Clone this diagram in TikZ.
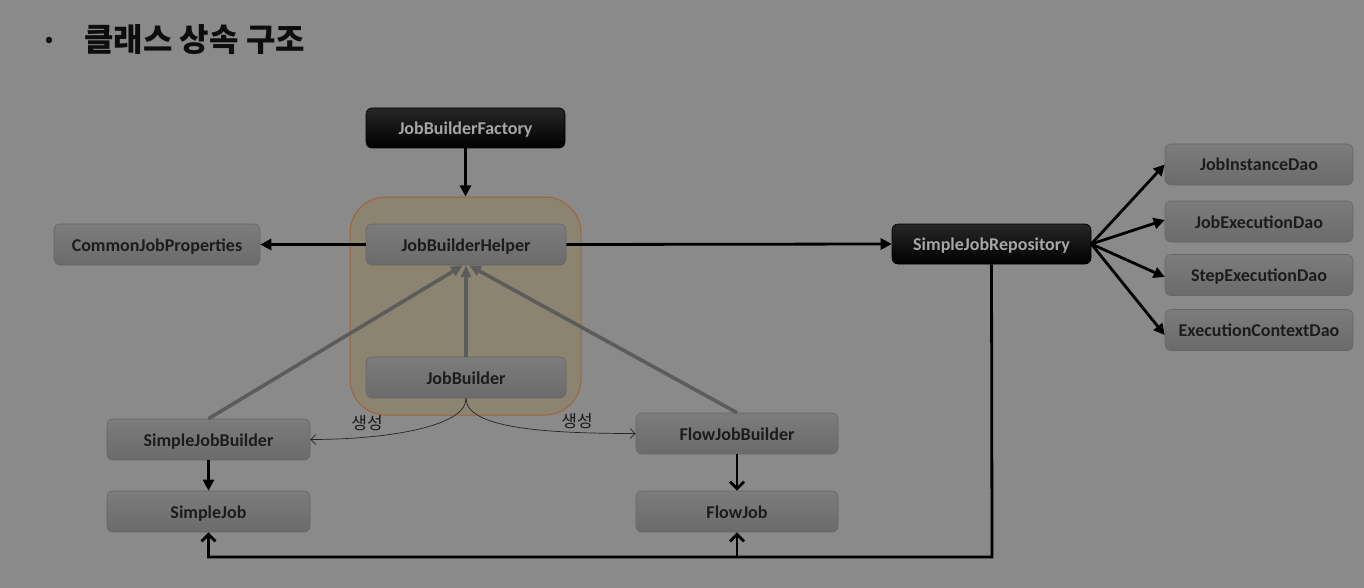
\documentclass[tikz,border=0pt]{standalone}
\usepackage{fontspec}
\setmainfont{Carlito}
\newfontfamily\kr{Noto Sans CJK KR}
\usetikzlibrary{arrows.meta}
\definecolor{bg}{HTML}{8A8A8A}
\definecolor{boxtop}{HTML}{7C7C7C}
\definecolor{boxbot}{HTML}{6B6B6B}
\definecolor{boxline}{HTML}{676767}
\definecolor{boxtext}{HTML}{1C1C1C}
\definecolor{darktext}{HTML}{A6A6A6}
\definecolor{contfill}{HTML}{8B8470}
\definecolor{contline}{HTML}{A0643A}
\definecolor{inh}{HTML}{5C5C5C}
\tikzset{
  gbox/.style={rounded corners=6pt, draw=boxline, line width=0.6pt, top color=boxtop, bottom color=boxbot,
    minimum width=202pt, minimum height=41pt, inner sep=0pt, text=boxtext,
    text height=14pt, text depth=1pt,
    font=\fontsize{18}{21}\selectfont\bfseries},
  bbox/.style={rounded corners=6pt, draw=black, line width=0.6pt, top color=black!85, bottom color=black,
    minimum width=199pt, minimum height=40pt, inner sep=0pt, text=darktext,
    text height=14pt, text depth=1pt,
    font=\fontsize{18}{21}\selectfont\bfseries},
  dbox/.style={gbox, minimum width=188pt},
  conn/.style={line width=2.8pt, draw=black, -{Triangle[length=11pt,width=11pt]}},
  upconn/.style={line width=2.8pt, draw=black, -{Straight Barb[length=7pt,width=14pt,line width=2.8pt]}},
  inharr/.style={line width=3.6pt, draw=inh, -{Triangle[length=12pt,width=10pt]}},
  thin/.style={line width=0.7pt, draw=black!85, -{Straight Barb[length=5pt,width=10pt,line width=0.7pt]}},
  lab/.style={font=\kr\fontsize{17}{20}\selectfont, text=black!90, inner sep=0pt},
}
\begin{document}
\begin{tikzpicture}[x=1pt,y=-1pt]
\fill[bg] (0,0) rectangle (1364,588);
\useasboundingbox (0,0) rectangle (1364,588);
% title
\node[anchor=west, inner sep=0pt, font=\kr\fontsize{32}{36}\selectfont\bfseries, text=black!95] (title) at (84,40) {클래스 상속 구조};
\node[inner sep=0pt, font=\kr\fontsize{20}{24}\selectfont\bfseries, text=black!95] (bullet) at (49,42) {•};
% container
\node[draw=contline, line width=1pt, fill=contfill, rounded corners=36pt, minimum width=231pt, minimum height=218pt, inner sep=0pt] (cont) at (465.5,306) {};
% nodes
\node[bbox] (jbf) at (465.5,128) {JobBuilderFactory};
\node[gbox, minimum width=200pt] (jbh) at (466,244.5) {JobBuilderHelper};
\node[gbox, minimum width=200pt] (jb) at (466,377.5) {JobBuilder};
\node[gbox, minimum width=206pt] (cjp) at (157,244.5) {CommonJobProperties};
\node[bbox] (sjr) at (991.5,244) {SimpleJobRepository};
\node[dbox] (jid) at (1259,164.5) {JobInstanceDao};
\node[dbox] (jed) at (1259,221.5) {JobExecutionDao};
\node[dbox] (sed) at (1259,275) {StepExecutionDao};
\node[dbox] (ecd) at (1259,330) {ExecutionContextDao};
\node[gbox, minimum width=203pt] (sjb) at (208.5,439.5) {SimpleJobBuilder};
\node[gbox, minimum width=203pt] (sj) at (208.5,511.5) {SimpleJob};
\node[gbox] (fjb) at (737,433.5) {FlowJobBuilder};
\node[gbox] (fj) at (737,511.5) {FlowJob};
% black connectors
\draw[conn] (jbf.south) -- (cont.north);
\draw[conn] (jbh.west) -- (cjp.east);
\draw[conn] (jbh.east) -- (sjr.west);
\draw[conn] (sjr.east) -- (jid.west);
\draw[conn] (sjr.east) -- ([yshift=1.5pt]jed.west);
\draw[conn] (sjr.east) -- ([yshift=-2pt]sed.west);
\draw[conn] (sjr.east) -- ([yshift=-5pt]ecd.west);
\draw[conn] (sjb.south) -- (sj.north);
\draw[upconn] (fjb.south) -- (fj.north);
\coordinate (c1) at (992,557);
\coordinate (c2) at (737,557);
\draw[upconn] (sjr.south) -- (c1) -| (sj.south);
\draw[upconn] (c2) -- (fj.south);
% inheritance
\draw[inharr] (sjb.north) -- ([xshift=-3pt]jbh.south);
\draw[inharr] (jb.north) -- (jbh.south);
\draw[inharr] (fjb.north) -- ([xshift=3pt]jbh.south);
% creation
\draw[thin] (jb.south) .. controls +(0,30) and +(70,0) .. (sjb.east);
\draw[thin] (jb.south) .. controls +(0,30) and +(-90,0) .. (fjb.west);
\node[lab] (l1) at (367,423) {생성};
\node[lab] (l2) at (577,421) {생성};
\end{tikzpicture}
\end{document}
